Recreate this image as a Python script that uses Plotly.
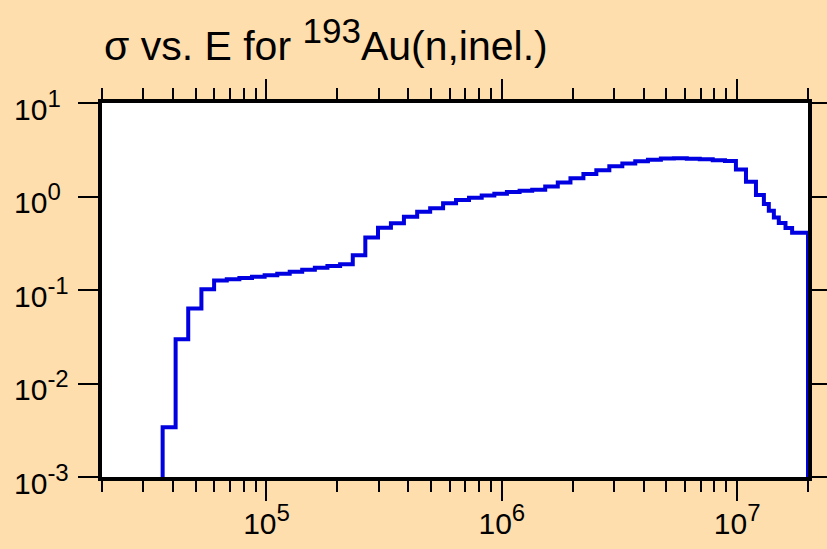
import math
import plotly.graph_objects as go

# Group boundaries (eV) and group-averaged cross sections (b)
energy_edges = [
    3.62e4, 4.11e4, 4.65e4, 5.29e4, 5.99e4, 6.78e4, 7.67e4, 8.68e4, 9.82e4,
    1.111e5, 1.255e5, 1.418e5, 1.605e5, 1.815e5, 2.055e5, 2.326e5, 2.63e5,
    2.977e5, 3.379e5, 3.837e5, 4.368e5, 4.96e5, 5.629e5, 6.39e5, 7.255e5,
    8.213e5, 9.294e5, 1.051e6, 1.19e6, 1.346e6, 1.529e6, 1.729e6, 1.957e6,
    2.222e6, 2.521e6, 2.863e6, 3.251e6, 3.69e6, 4.177e6, 4.741e6, 5.382e6,
    6.11e6, 6.937e6, 7.874e6, 8.878e6, 9.88e6, 1.09e7, 1.202e7, 1.299e7,
    1.363e7, 1.432e7, 1.503e7, 1.605e7, 1.712e7, 2.0e7,
]
sigma = [
    3.40e-3, 0.0297, 0.0634, 0.102, 0.126, 0.130, 0.134, 0.139, 0.144,
    0.149, 0.157, 0.165, 0.173, 0.181, 0.188, 0.235, 0.364, 0.463, 0.516,
    0.608, 0.687, 0.748, 0.845, 0.918, 0.969, 1.025, 1.071, 1.117, 1.151,
    1.183, 1.279, 1.412, 1.566, 1.741, 1.906, 2.103, 2.254, 2.378, 2.474,
    2.548, 2.562, 2.537, 2.50, 2.444, 2.397, 1.946, 1.439, 1.037, 0.832,
    0.703, 0.596, 0.521, 0.461, 0.410,
]
floor_value = 1e-5  # below the visible range: the histogram drops to the axis at both ends

x_tickvals = [1e5, 1e6, 1e7]
x_exponents = ["5", "6", "7"]
y_tickvals = [1e-3, 1e-2, 1e-1, 1e0, 1e1]
y_exponents = ["-3", "-2", "-1", "0", "1"]
x_minor = [m * 10 ** d for d in (4, 5, 6) for m in range(2, 10)] + [2e7]

SUP = '10<sup><span style="font-size:{s}px">{e}</span></sup>'
x_ticktext = [SUP.format(s=24, e=e) for e in x_exponents]
y_labels = [SUP.format(s=24, e=e) for e in y_exponents]

xs = [energy_edges[0]] + energy_edges
ys = [floor_value] + sigma + [floor_value]

FONT = "Liberation Sans, Arial, Helvetica, sans-serif"
W, H = 827, 549
L, R, T, B = 102, 19, 103, 72

fig = go.Figure()
fig.add_trace(go.Scatter(
    x=xs, y=ys, mode="lines", line=dict(color="#0000E0", width=4, shape="hv"),
    showlegend=False, hoverinfo="skip",
))

# y tick labels are left-aligned in the reference, so draw them as annotations on the y scale
for v, lab in zip(y_tickvals, y_labels):
    fig.add_annotation(
        x=(12 - L) / (W - L - R), xref="paper", xanchor="left",
        y=math.log10(v), yref="y", yanchor="middle", yshift=-2,
        text=lab, showarrow=False,
        font=dict(family=FONT, size=30, color="black"),
    )

fig.update_layout(
    width=W, height=H,
    paper_bgcolor="#FFDEAD", plot_bgcolor="white",
    margin=dict(l=L, r=R, t=T, b=B, autoexpand=False),
    font=dict(family=FONT, size=30, color="black"),
    title=dict(
        text='σ vs. E for <sup><span style="font-size:35px">193</span></sup>Au(n,inel.)',
        x=104 / W, xref="container", xanchor="left",
        y=1 - 46 / H, yref="container", yanchor="middle",
        font=dict(family=FONT, size=41, color="black"),
    ),
)
fig.update_xaxes(
    type="log", range=[4.30103, 7.30103], automargin=False,
    tickmode="array", tickvals=x_tickvals, ticktext=x_ticktext,
    ticks="outside", ticklen=20, tickwidth=2, tickcolor="black",
    ticklabelstandoff=-3,
    minor=dict(tickmode="array", tickvals=x_minor, ticks="outside", ticklen=11,
               tickwidth=2, tickcolor="black", showgrid=False),
    showline=True, linewidth=4, linecolor="black", mirror="allticks",
    showgrid=False, zeroline=False,
    tickfont=dict(family=FONT, size=30, color="black"),
)
fig.update_yaxes(
    type="log", range=[-3, 1], automargin=False,
    tickmode="array", tickvals=y_tickvals, showticklabels=False,
    ticks="outside", ticklen=20, tickwidth=2, tickcolor="black",
    showline=True, linewidth=4, linecolor="black", mirror="allticks",
    showgrid=False, zeroline=False,
)

fig.write_html(
    "out.html",
    config={"displayModeBar": False},
    post_script="document.body.style.margin='0px';",
)
